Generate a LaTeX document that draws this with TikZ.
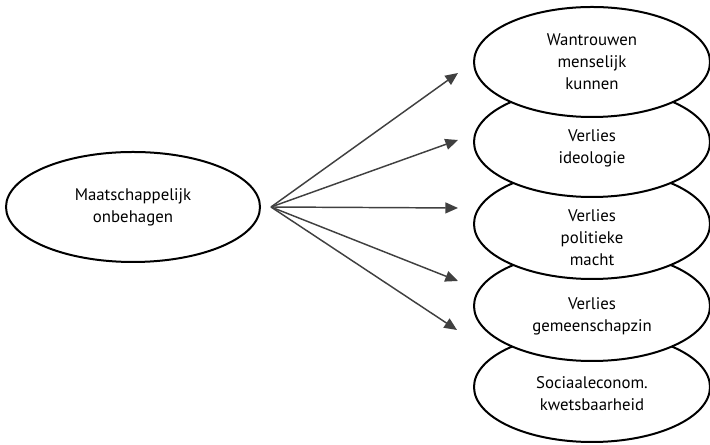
\documentclass[tikz,border=0pt]{standalone}
\usepackage{fontspec}
\setmainfont{PT Sans}
\usetikzlibrary{shapes.geometric,arrows.meta}
\tikzset{
	bubble/.style={ellipse,draw,line width=1.5pt,fill=white,minimum width=177pt,minimum height=82.5pt,inner sep=0pt},
	lbl/.style={align=center,font=\fontsize{12.6}{16.5}\selectfont},
	pijl/.style={-{Triangle[length=9.5pt,width=8.2pt]},color=black!75,line width=1.1pt}
}
\begin{document}
\begin{tikzpicture}[x=0.75pt,y=0.75pt]
	\useasboundingbox (0,0) rectangle (710,445);
	\node[bubble,minimum width=190.5pt] (maat) at (133,238) {};
	\node[lbl] (tmaat) at (maat.center) {Maatschappelijk\\onbehagen};
	\node[bubble] (e5) at (592,58) {};
	\node[bubble] (e4) at (592,139) {};
	\node[bubble] (e3) at (592,221) {};
	\node[bubble] (e2) at (592,303) {};
	\node[bubble] (e1) at (592,383) {};
	\node[lbl] (t1) at (e1.center) {Wantrouwen\\menselijk\\kunnen};
	\node[lbl] (t2) at ([yshift=-5pt]e2.center) {Verlies\\ideologie};
	\node[lbl] (t3) at ([yshift=-10.5pt]e3.center) {Verlies\\politieke\\macht};
	\node[lbl] (t4) at ([yshift=-7.5pt]e4.center) {Verlies\\gemeenschapzin};
	\node[lbl] (t5) at ([yshift=-5pt]e5.center) {Sociaaleconom.\\kwetsbaarheid};
	\coordinate (bron) at (271,238);
	\coordinate (p1) at (458,372);
	\coordinate (p2) at (458,305);
	\coordinate (p3) at (458,237);
	\coordinate (p4) at (458,164);
	\coordinate (p5) at (457,115);
	\foreach \i in {1,...,5}
		\draw[pijl] (bron) -- (p\i);
\end{tikzpicture}
\end{document}
